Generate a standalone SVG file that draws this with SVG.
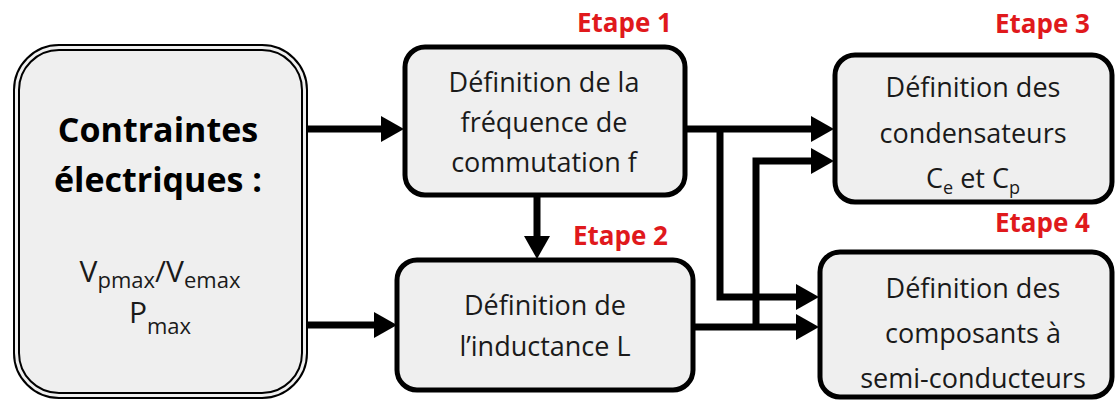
<svg xmlns="http://www.w3.org/2000/svg" width="1117" height="400" viewBox="0 0 1117 400">
<defs>
<style>
.box{fill:#efefef;stroke:#000;stroke-width:5}
.dbl{fill:none;stroke:#000;stroke-width:2}
.t{font-family:"Open Sans","Liberation Sans",sans-serif;font-size:27px;fill:#1a1a1a;text-anchor:middle}
.b{font-family:"Open Sans","Liberation Sans",sans-serif;font-size:34px;font-weight:bold;fill:#000;text-anchor:middle}
.et{font-family:"Open Sans","Liberation Sans",sans-serif;font-size:26px;font-weight:bold;fill:#e0191c}
.c{fill:none;stroke:#000;stroke-width:7}
</style>
<marker id="ah" markerUnits="userSpaceOnUse" markerWidth="24" markerHeight="26" refX="0" refY="13" orient="auto">
<path d="M0,0 L23,13 L0,26 z" fill="#000"/>
</marker>
</defs>
<rect width="1117" height="400" fill="#fff"/>

<g id="connectors">
<path class="c" d="M305,129 H381" marker-end="url(#ah)"/>
<path class="c" d="M305,325 H374" marker-end="url(#ah)"/>
<path class="c" d="M537,195 V236" marker-end="url(#ah)"/>
<path class="c" d="M685,129 H811" marker-end="url(#ah)"/>
<path class="c" d="M720,126 V297 H796" marker-end="url(#ah)"/>
<path class="c" d="M693,327 H796" marker-end="url(#ah)"/>
<path class="c" d="M756,330 V161 H811" marker-end="url(#ah)"/>
</g>

<g id="contraintes">
<rect x="14" y="45" width="293" height="353" rx="45" class="box" style="stroke-width:2"/>
<rect x="19" y="50" width="283" height="343" rx="40" class="dbl"/>
<text class="b" x="158" y="142">Contraintes</text>
<text class="b" x="158" y="192">électriques :</text>
<text class="t" x="160" y="282" style="font-size:30px">V<tspan dy="6" style="font-size:22px">pmax</tspan><tspan dy="-6">/V</tspan><tspan dy="6" style="font-size:22px">emax</tspan></text>
<text class="t" x="160" y="323" style="font-size:30px">P<tspan dy="11" style="font-size:22px">max</tspan></text>
</g>

<g id="etape1">
<rect x="405" y="47" width="280" height="148" rx="20" class="box"/>
<text class="t" x="544" y="92">Définition de la</text>
<text class="t" x="544" y="132">fréquence de</text>
<text class="t" x="544" y="172">commutation f</text>
<text class="et" x="577" y="32">Etape 1</text>
</g>

<g id="etape2">
<rect x="397" y="260" width="296" height="130" rx="20" class="box"/>
<text class="t" x="545" y="315">Définition de</text>
<text class="t" x="545" y="356">l’inductance L</text>
<text class="et" x="573" y="245">Etape 2</text>
</g>

<g id="etape3">
<rect x="835" y="55" width="277" height="147" rx="20" class="box"/>
<text class="t" x="973" y="97">Définition des</text>
<text class="t" x="973" y="143">condensateurs</text>
<text class="t" x="973" y="188">C<tspan dy="6" style="font-size:18px">e</tspan><tspan dy="-6"> et C</tspan><tspan dy="6" style="font-size:18px">p</tspan></text>
<text class="et" x="995" y="33">Etape 3</text>
</g>

<g id="etape4">
<rect x="820" y="252" width="292" height="145" rx="20" class="box"/>
<text class="t" x="973" y="298">Définition des</text>
<text class="t" x="973" y="343">composants à</text>
<text class="t" x="973" y="388">semi-conducteurs</text>
<text class="et" x="995" y="232">Etape 4</text>
</g>
</svg>
